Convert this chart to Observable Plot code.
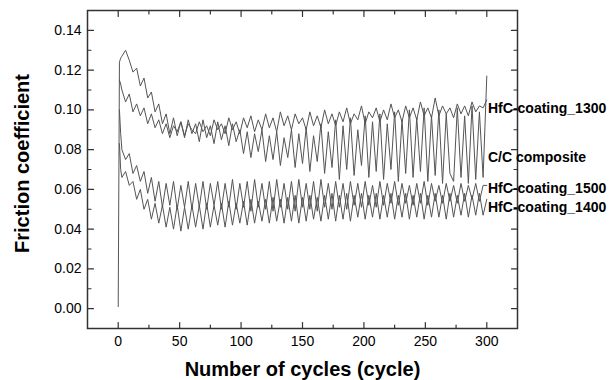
<!DOCTYPE html>
<html>
<head>
<meta charset="utf-8">
<script src="https://cdn.jsdelivr.net/npm/d3@7"></script>
<script src="https://cdn.jsdelivr.net/npm/@observablehq/plot@0.6"></script>
<style>
  body { margin: 0; background: #fff; }
  #chart svg { font-family: "Liberation Sans", Arial, sans-serif; }
</style>
</head>
<body>
<div id="chart"></div>
<script>
// sampling grid (cycles)
const cycles = [0, 1, 2, ...d3.range(3, 301, 3)];

const ccComposite = [0.001, 0.124, 0.126,
  0.127, 0.130, 0.125, 0.119, 0.121, 0.112, 0.116, 0.106, 0.109, 0.099,
  0.103, 0.093, 0.098, 0.088, 0.096, 0.087, 0.094, 0.086, 0.095, 0.088,
  0.093, 0.084, 0.095, 0.086, 0.092, 0.083, 0.094, 0.085, 0.092, 0.082,
  0.093, 0.084, 0.090, 0.078, 0.089, 0.076, 0.088, 0.079, 0.090, 0.074,
  0.087, 0.075, 0.089, 0.072, 0.086, 0.076, 0.090, 0.071, 0.088, 0.073,
  0.091, 0.069, 0.087, 0.074, 0.093, 0.068, 0.089, 0.071, 0.095, 0.065,
  0.092, 0.070, 0.096, 0.067, 0.090, 0.072, 0.097, 0.066, 0.094, 0.069,
  0.098, 0.065, 0.093, 0.070, 0.099, 0.064, 0.095, 0.068, 0.100, 0.066,
  0.096, 0.069, 0.101, 0.064, 0.097, 0.067, 0.100, 0.063, 0.098, 0.068,
  0.064, 0.101, 0.066, 0.097, 0.063, 0.102, 0.065, 0.099, 0.066, 0.117];

const hfc1300 = [null, 0.115, 0.113,
  0.110, 0.104, 0.108, 0.099, 0.103, 0.097, 0.101, 0.093, 0.098, 0.091,
  0.095, 0.088, 0.093, 0.086, 0.092, 0.089, 0.094, 0.087, 0.093, 0.090,
  0.088, 0.094, 0.089, 0.092, 0.087, 0.095, 0.090, 0.093, 0.088, 0.096,
  0.090, 0.094, 0.088, 0.096, 0.091, 0.097, 0.089, 0.095, 0.090, 0.098,
  0.091, 0.096, 0.089, 0.099, 0.092, 0.097, 0.090, 0.098, 0.093, 0.096,
  0.090, 0.099, 0.092, 0.097, 0.091, 0.100, 0.093, 0.098, 0.092, 0.099,
  0.094, 0.101, 0.093, 0.098, 0.095, 0.102, 0.093, 0.099, 0.096, 0.101,
  0.094, 0.100, 0.095, 0.103, 0.096, 0.100, 0.094, 0.102, 0.096, 0.101,
  0.095, 0.104, 0.097, 0.101, 0.096, 0.106, 0.097, 0.102, 0.098, 0.101,
  0.096, 0.103, 0.098, 0.102, 0.097, 0.104, 0.099, 0.102, 0.101, 0.105];

const hfc1500 = [null, 0.100, 0.088,
  0.080, 0.075, 0.078, 0.068, 0.072, 0.064, 0.069, 0.058, 0.066, 0.054,
  0.064, 0.051, 0.063, 0.052, 0.064, 0.050, 0.062, 0.051, 0.064, 0.050,
  0.063, 0.051, 0.064, 0.050, 0.063, 0.052, 0.064, 0.050, 0.063, 0.051,
  0.065, 0.050, 0.063, 0.051, 0.064, 0.049, 0.065, 0.051, 0.063, 0.050,
  0.064, 0.049, 0.065, 0.051, 0.063, 0.050, 0.064, 0.049, 0.065, 0.051,
  0.063, 0.050, 0.064, 0.049, 0.065, 0.051, 0.063, 0.050, 0.064, 0.051,
  0.063, 0.050, 0.064, 0.052, 0.063, 0.051, 0.064, 0.052, 0.062, 0.051,
  0.064, 0.052, 0.063, 0.053, 0.064, 0.052, 0.063, 0.053, 0.062, 0.052,
  0.063, 0.053, 0.064, 0.052, 0.063, 0.054, 0.062, 0.053, 0.063, 0.054,
  0.062, 0.053, 0.063, 0.054, 0.062, 0.055, 0.063, 0.054, 0.062, 0.062];

const hfc1400 = [null, 0.083, 0.070,
  0.066, 0.069, 0.062, 0.064, 0.055, 0.060, 0.050, 0.055, 0.045, 0.053,
  0.043, 0.052, 0.041, 0.051, 0.040, 0.052, 0.039, 0.051, 0.040, 0.052,
  0.041, 0.052, 0.040, 0.053, 0.041, 0.052, 0.042, 0.053, 0.041, 0.054,
  0.042, 0.053, 0.043, 0.054, 0.042, 0.055, 0.043, 0.054, 0.044, 0.055,
  0.043, 0.056, 0.044, 0.055, 0.043, 0.056, 0.044, 0.057, 0.043, 0.056,
  0.044, 0.057, 0.045, 0.056, 0.044, 0.057, 0.045, 0.058, 0.044, 0.057,
  0.045, 0.058, 0.044, 0.057, 0.046, 0.058, 0.045, 0.057, 0.046, 0.058,
  0.045, 0.057, 0.046, 0.058, 0.045, 0.057, 0.046, 0.058, 0.045, 0.057,
  0.046, 0.058, 0.045, 0.057, 0.046, 0.058, 0.046, 0.057, 0.045, 0.058,
  0.046, 0.057, 0.047, 0.058, 0.046, 0.057, 0.047, 0.058, 0.047, 0.055];

const seriesNames = ["HfC-coating_1300", "C/C composite", "HfC-coating_1500", "HfC-coating_1400"];
const seriesValues = [hfc1300, ccComposite, hfc1500, hfc1400];
const labelValues = [0.1007, 0.0760, 0.0604, 0.0508];
const labelCycle = 301;

const xTicks = [0, 50, 100, 150, 200, 250, 300];
const xMinor = [25, 75, 125, 175, 225, 275];
const yTicks = [0.00, 0.02, 0.04, 0.06, 0.08, 0.10, 0.12, 0.14];
const yMinor = [0.01, 0.03, 0.05, 0.07, 0.09, 0.11, 0.13];

const rows = [];
seriesNames.forEach((name, s) => {
  cycles.forEach((c, i) => rows.push({series: name, cycle: c, value: seriesValues[s][i]}));
});
const labels = seriesNames.map((name, s) => ({name, cycle: labelCycle, value: labelValues[s]}));

const tickShape = {draw(context, l) { context.moveTo(0, 0); context.lineTo(0, -l); }};
const tickColor = "#333";
function ticks(data, side, len) {
  const rot = {left: 90, right: -90, top: 180, bottom: 0}[side];
  const ch = (side === "left" || side === "right") ? {y: d => d} : {x: d => d};
  return Plot.vector(data, {...ch, frameAnchor: side, rotate: rot, length: len, anchor: "start",
    shape: tickShape, stroke: tickColor, strokeWidth: 1.2});
}

const chart = Plot.plot({
  width: 616,
  height: 380,
  marginLeft: 87,
  marginRight: 99,
  marginTop: 10,
  marginBottom: 52,
  style: {fontSize: "14px", fontFamily: "'Liberation Sans', Arial, sans-serif", color: "#000", background: "#fff"},
  x: {domain: [-25, 325]},
  y: {domain: [-0.01, 0.15]},
  marks: [
    Plot.line(rows, {x: "cycle", y: "value", z: "series", stroke: "#555", strokeWidth: 1, curve: "linear"}),
    Plot.frame({stroke: tickColor, strokeWidth: 1.5}),
    ticks(yTicks, "left", 6), ticks(yMinor, "left", 3.5),
    ticks(yTicks, "right", 6), ticks(yMinor, "right", 3.5),
    ticks(xTicks, "bottom", 6), ticks(xMinor, "bottom", 3.5),
    ticks(xTicks, "top", 6), ticks(xMinor, "top", 3.5),
    Plot.axisX({ticks: xTicks, tickSize: 0, tickPadding: 8, tickFormat: d => String(d), fontSize: 14, label: null}),
    Plot.axisY({ticks: yTicks, tickSize: 0, tickPadding: 6, tickFormat: d3.format(".2f"), fontSize: 14, label: null}),
    Plot.text(labels, {x: "cycle", y: "value", text: "name", textAnchor: "start", fontWeight: "bold", fontSize: 14, fill: "#000"}),
    Plot.text(["Number of cycles (cycle)"], {text: d => d, frameAnchor: "bottom", lineAnchor: "bottom", dy: 47, fontSize: 20, fontWeight: "bold", fill: "#000"}),
    Plot.text(["Friction coefficient"], {text: d => d, frameAnchor: "left", textAnchor: "middle", lineAnchor: "middle", rotate: -90, dx: -65, dy: -6, fontSize: 20, fontWeight: "bold", fill: "#000"})
  ]
});
document.getElementById("chart").appendChild(chart);
</script>
</body>
</html>
